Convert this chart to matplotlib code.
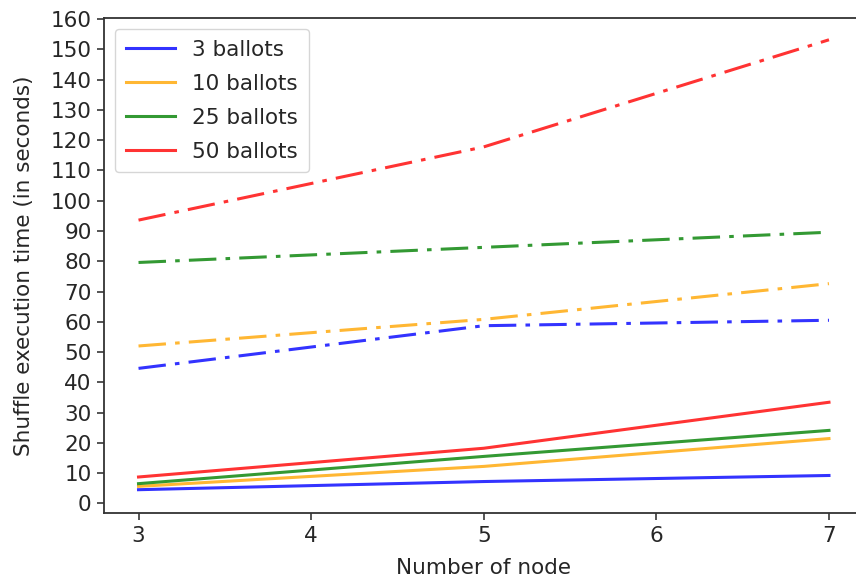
import matplotlib
matplotlib.use("Agg")
import matplotlib.pyplot as plt

nodes = [3, 5, 7]
labels = ["3 ballots", "10 ballots", "25 ballots", "50 ballots"]
colors = ["blue", "orange", "green", "red"]
solid_vals = [
    [4.5, 7.2, 9.2],
    [5.6, 12.2, 21.4],
    [6.5, 15.5, 24.1],
    [8.7, 18.2, 33.4],
]
dashdot_vals = [
    [44.6, 58.7, 60.5],
    [52.0, 60.8, 72.6],
    [79.6, 84.6, 89.6],
    [93.6, 117.8, 153.2],
]
yticks = list(range(0, 161, 10))
xticks = [3, 4, 5, 6, 7]

plt.rcParams["font.family"] = ["DejaVu Sans"]
fs = 15.5
tc = "#262626"

fig = plt.figure(figsize=(8.56, 5.83), dpi=100)
ax = fig.add_axes([104/856, 70/583, (863.5-104)/856, (513-18)/583])

for lab, c, v in zip(labels, colors, solid_vals):
    ax.plot(nodes, v, color=c, alpha=0.8, lw=2.2, label=lab)
for c, v in zip(colors, dashdot_vals):
    ax.plot(nodes, v, color=c, alpha=0.8, lw=2.2, linestyle="-.",
            dashes=(9, 3, 1.5, 3))

ax.set_xlim(2.8, 7.2)
ax.set_ylim(-3.2, 160.4)
ax.set_xticks(xticks)
ax.set_yticks(yticks)
ax.tick_params(labelsize=fs, colors=tc, length=5, width=1.1, pad=4)
for s in ax.spines.values():
    s.set_linewidth(1.3)
    s.set_color("#333333")
ax.set_xlabel("Number of node", fontsize=fs, color=tc, labelpad=9)
ax.set_ylabel("Shuffle execution time (in seconds)", fontsize=fs, color=tc, labelpad=12)

leg = ax.legend(loc="upper left", fontsize=fs, frameon=True, handlelength=2.3,
                borderpad=0.5, labelspacing=0.65, handletextpad=0.8)
for t in leg.get_texts():
    t.set_color(tc)

fig.savefig("out.png", dpi=100)
